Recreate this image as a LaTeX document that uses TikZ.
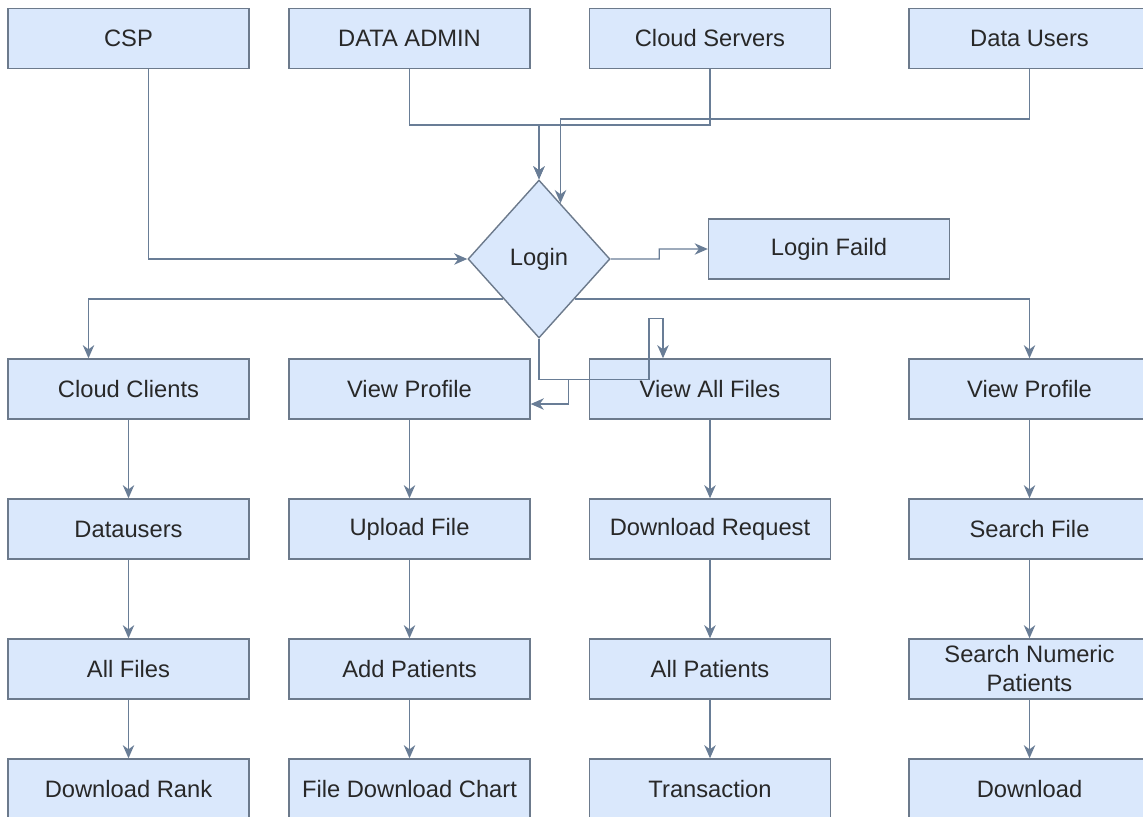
\documentclass[tikz,border=0pt]{standalone}
\usepackage{fontspec}
\setmainfont{Liberation Sans}
\usetikzlibrary{positioning,calc,shapes.geometric,arrows.meta}

\definecolor{boxfill}{RGB}{218,232,252}
\definecolor{boxline}{RGB}{108,122,140}
\definecolor{flowline}{RGB}{105,125,150}
\definecolor{labeltext}{RGB}{40,40,40}

\tikzset{
  box/.style={draw=boxline, fill=boxfill, line width=0.8pt, minimum width=4.82cm, minimum height=1.2cm,
    inner sep=2pt, align=center, text=labeltext, font=\fontsize{13.5}{16.5}\selectfont},
  decision/.style={diamond, draw=boxline, fill=boxfill, line width=0.8pt, minimum width=2.84cm,
    minimum height=3.16cm, inner sep=0pt, text=labeltext, font=\fontsize{13.5}{16.5}\selectfont},
  flow/.style={draw=flowline, line width=0.8pt, -{Stealth[length=7.5pt,width=6.5pt,inset=2.4pt]}}
}

\begin{document}
\begin{tikzpicture}[x=0.02cm, y=-0.02cm]
                    \clip (0,0) rectangle (1143,816);
                    % top row
                    \node[box] (csp) at (128.5,38.5) {CSP};
                    \node[box] (admin) at (409.5,38.5) {DATA ADMIN};
                    \node[box] (servers) at (710,38.5) {Cloud Servers};
                    \node[box] (users) at (1029.5,38.5) {Data Users};
                    % login
                    \node[decision] (login) at (539,259) {Login};
                    \node[box] (fail) at (829,249) {Login Faild};
                    % columns
                    \node[box] (clients) at (128.5,389) {Cloud Clients};
                    \node[box] (dusers) at (128.5,529) {Datausers};
                    \node[box] (allfiles) at (128.5,669) {All Files};
                    \node[box] (rank) at (128.5,789) {Download Rank};
                    \node[box] (profA) at (409.5,389) {View Profile};
                    \node[box] (upload) at (409.5,529) {Upload File};
                    \node[box] (patients) at (409.5,669) {Add Patients};
                    \node[box] (chart) at (409.5,789) {File Download Chart};
                    \node[box] (files) at (710,389) {View All Files};
                    \node[box] (request) at (710,529) {Download Request};
                    \node[box] (allpat) at (710,669) {All Patients};
                    \node[box] (trans) at (710,789) {Transaction};
                    \node[box] (profB) at (1029.5,389) {View Profile};
                    \node[box] (search) at (1029.5,529) {Search File};
                    \node[box] (numeric) at (1029.5,669) {Search Numeric\\Patients};
                    \node[box] (download) at (1029.5,789) {Download};

                    \coordinate (lvlA) at (0,125);
                    \coordinate (lvlB) at (0,119);
                    \coordinate (loginne) at ($(login.north)!0.3!(login.east)$);
                    \coordinate (split) at ($(login.south)+(0,41)$);

                    \draw[flow] ($(csp.south)+(20,0)$) |- (login.west);
                    \draw[flow] (admin.south) |- (login.north |- lvlA) -- (login.north);
                    \draw[flow] (servers.south) |- (login.north |- lvlA) -- (login.north);
                    \draw[flow] (users.south) |- (loginne |- lvlB) -- (loginne);
                    \draw[flow] (login.east) -- ($(login.east)!0.5!(login.east -| fail.west)$) |- (fail.west);
                    \draw[flow] ($(login.west)!0.5!(login.south)$) -| ($(clients.north)+(-40,0)$);
                    \draw[flow] ($(login.east)!0.5!(login.south)$) -| (profB.north);
                    \draw[flow] (login.south) -- (split) -| ($(profA.east)+(38,15)$) -- ($(profA.east)+(0,15)$);
                    \draw[flow] (split) -| ($(files.north)+(-61,-40)$) -| ($(files.north)+(-47,0)$);

                    \foreach \a/\b in {clients/dusers, dusers/allfiles, allfiles/rank,
                                       profA/upload, upload/patients, patients/chart,
                                       files/request, request/allpat, allpat/trans,
                                       profB/search, search/numeric, numeric/download}
                        \draw[flow] (\a) -- (\b);
                \end{tikzpicture}
\end{document}
